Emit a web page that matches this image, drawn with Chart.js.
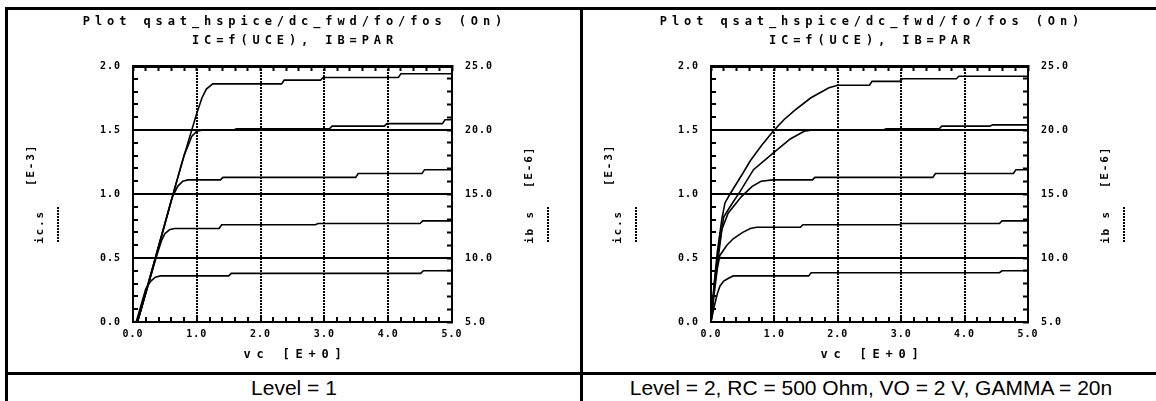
<!DOCTYPE html>
<html>
<head>
<meta charset="utf-8">
<script src="https://cdn.jsdelivr.net/npm/chart.js@4.4.1/dist/chart.umd.min.js"></script>
<style>
  html, body { margin: 0; padding: 0; background: #fff; width: 1156px; height: 401px; overflow: hidden; position: relative; }
  .rule { position: absolute; background: #000; }
  canvas { position: absolute; }
  .caption { position: absolute; top: 376px; height: 24px; line-height: 24px; text-align: center;
             font-family: "Liberation Sans", Arial, sans-serif; font-size: 21px; color: #000; white-space: nowrap; }
</style>
</head>
<body>
<div class="rule" style="left:5px;top:7px;width:1160px;height:3px"></div>
<div class="rule" style="left:5px;top:7px;width:3px;height:400px"></div>
<div class="rule" style="left:580px;top:7px;width:3px;height:400px"></div>
<div class="rule" style="left:5px;top:372px;width:1160px;height:3px"></div>
<canvas id="chartL" width="572" height="362" style="left:8px;top:10px"></canvas>
<canvas id="chartR" width="573" height="362" style="left:583px;top:10px"></canvas>
<div class="caption" id="capL" style="left:8px;width:572px"></div>
<div class="caption" id="capR" style="left:583px;width:576px"></div>

<script>
// axes (tick labels)
const vcTicks = [0, 1, 2, 3, 4, 5];        // VC [E+0]
const icTicks = [0, 0.5, 1.0, 1.5, 2.0];   // IC [E-3]
const ibTicks = [5, 10, 15, 20, 25];       // IB [E-6]

const titleLines = ['Plot qsat_hspice/dc_fwd/fo/fos (On)', 'IC=f(UCE), IB=PAR'];
const xTitle = 'vc [E+0]';
const captionL = 'Level = 1';
const captionR = 'Level = 2, RC = 500 Ohm, VO = 2 V, GAMMA = 20n';

// Level 1 : [vc, ic] per IB step
const l1_ib25 = [[0.07,0],[0.3,0.4],[0.6,0.95],[0.8,1.3],[1.0,1.63],[1.08,1.75],[1.15,1.82],[1.25,1.86],[2.33,1.86],[2.37,1.89],[2.94,1.89],[2.98,1.91],[4.16,1.91],[4.2,1.94],[5.0,1.94]];
const l1_ib20 = [[0.07,0],[0.3,0.41],[0.6,0.95],[0.8,1.3],[0.92,1.45],[1.0,1.49],[1.1,1.5],[1.58,1.5],[1.62,1.51],[3.08,1.51],[3.12,1.53],[3.94,1.53],[3.98,1.55],[4.85,1.55],[4.89,1.58],[5.0,1.58]];
const l1_ib15 = [[0.07,0],[0.35,0.5],[0.62,0.98],[0.7,1.06],[0.78,1.1],[0.86,1.11],[1.37,1.11],[1.41,1.13],[3.49,1.13],[3.53,1.16],[4.53,1.16],[4.57,1.19],[5.0,1.19]];
const l1_ib10 = [[0.07,0],[0.36,0.5],[0.45,0.64],[0.5,0.69],[0.57,0.72],[0.65,0.73],[1.35,0.73],[1.39,0.76],[2.86,0.76],[2.9,0.77],[4.5,0.77],[4.54,0.79],[5.0,0.79]];
const l1_ib5  = [[0.05,0],[0.2,0.26],[0.28,0.32],[0.35,0.35],[0.43,0.36],[1.5,0.36],[1.54,0.38],[4.51,0.38],[4.55,0.4],[5.0,0.4]];

// Level 2
const l2_ib25 = [[0,0],[0.05,0.3],[0.1,0.55],[0.17,0.8],[0.22,0.93],[0.3,1.0],[0.4,1.08],[0.5,1.16],[0.62,1.26],[0.8,1.38],[0.98,1.49],[1.15,1.58],[1.31,1.65],[1.57,1.75],[1.86,1.83],[2.0,1.85],[2.5,1.85],[2.54,1.88],[2.98,1.88],[3.02,1.9],[3.87,1.9],[3.91,1.92],[5.0,1.92]];
const l2_ib20 = [[0,0],[0.05,0.28],[0.1,0.5],[0.2,0.82],[0.3,0.9],[0.46,1.02],[0.67,1.19],[0.98,1.32],[1.25,1.43],[1.47,1.49],[1.6,1.5],[2.72,1.5],[2.76,1.51],[3.6,1.51],[3.64,1.53],[4.4,1.53],[4.44,1.54],[5.0,1.54]];
const l2_ib15 = [[0,0],[0.05,0.25],[0.1,0.45],[0.17,0.72],[0.27,0.85],[0.48,0.98],[0.65,1.06],[0.79,1.1],[0.97,1.11],[1.6,1.11],[1.64,1.13],[3.5,1.13],[3.54,1.16],[4.77,1.16],[4.81,1.19],[5.0,1.19]];
const l2_ib10 = [[0,0],[0.05,0.22],[0.1,0.42],[0.14,0.52],[0.25,0.6],[0.35,0.65],[0.5,0.7],[0.62,0.73],[0.72,0.74],[1.41,0.74],[1.45,0.76],[2.97,0.76],[3.01,0.77],[4.55,0.77],[4.59,0.79],[5.0,0.79]];
const l2_ib5  = [[0,0],[0.05,0.12],[0.1,0.22],[0.14,0.28],[0.2,0.32],[0.27,0.34],[0.35,0.36],[1.54,0.36],[1.58,0.385],[4.55,0.385],[4.59,0.4],[5.0,0.4]];

document.getElementById('capL').textContent = captionL;
document.getElementById('capR').textContent = captionR;

const MONO = '"DejaVu Sans Mono", monospace';
const tickFont = { family: MONO, size: 10, weight: 'bold' };
const clear = 'rgba(0,0,0,0)';

function isStep(v, step) {
    const r = v / step;
    return Math.abs(r - Math.round(r)) < 1e-6;
}
function first(a) { return a[0]; }
function last(a) { return a[a.length - 1]; }

// major grid only between the frame edges
function majorColor(ticks, step) {
    return c => {
        const v = c.tick.value;
        return isStep(v, step) && v > first(ticks) + 1e-6 && v < last(ticks) - 1e-6 ? '#000' : clear;
    };
}

function vText(ctx, str, x, y) {
    ctx.save();
    ctx.translate(x, y);
    ctx.rotate(-Math.PI / 2);
    ctx.fillText(str, 0, 0);
    ctx.restore();
}

// titles, axis names and the little legend strokes
const labelsPlugin = {
    id: 'plotLabels',
    beforeDraw(chart) {
        chart.ctx.letterSpacing = '1px';
    },
    afterDraw(chart) {
        const { ctx, chartArea: a } = chart;
        const cx = (a.left + a.right) / 2;
        ctx.save();
        ctx.fillStyle = '#000';
        ctx.textAlign = 'center';
        ctx.textBaseline = 'middle';

        ctx.font = 'bold 12px ' + MONO;
        ctx.letterSpacing = '4.9px';
        ctx.fillText(titleLines[0], cx + 2.5, 12);
        ctx.fillText(titleLines[1], cx + 2.5, 31);
        ctx.letterSpacing = '5.8px';
        ctx.fillText(xTitle, cx + 3, a.bottom + 33);

        ctx.font = 'bold 11px ' + MONO;
        ctx.letterSpacing = '1.8px';
        vText(ctx, '[E-3]', a.left - 102, a.top + 99);
        vText(ctx, 'ic.s', a.left - 93, a.top + 161);
        vText(ctx, '[E-6]', a.right + 77, a.top + 101);
        vText(ctx, 'ib s', a.right + 78, a.top + 161);

        ctx.strokeStyle = '#000';
        ctx.lineWidth = 2;
        ctx.setLineDash([2, 1]);
        ctx.beginPath();
        ctx.moveTo(a.left - 75, a.top + 141);
        ctx.lineTo(a.left - 75, a.top + 176);
        ctx.moveTo(a.right + 96, a.top + 141);
        ctx.lineTo(a.right + 96, a.top + 176);
        ctx.stroke();
        ctx.restore();
        ctx.letterSpacing = '0px';
    }
};

function makeChart(id, curves, leftW, rightW) {
    const ctx = document.getElementById(id).getContext('2d');
    const frame = { display: true, color: '#000', width: 2 };
    const minor = { tickLength: -5, tickWidth: 2, tickColor: '#000' };
    return new Chart(ctx, {
        type: 'line',
        data: {
            datasets: curves.map(c => ({
                data: c.map(p => ({ x: p[0], y: p[1] })),
                borderColor: '#000',
                borderWidth: 1.6,
                pointRadius: 0,
                tension: 0,
                fill: false
            }))
        },
        options: {
            responsive: false,
            animation: false,
            events: [],
            layout: { padding: { top: 56, left: 0, right: 0, bottom: 0 } },
            plugins: {
                legend: { display: false },
                tooltip: { enabled: false },
                title: { display: false }
            },
            scales: {
                x: {
                    type: 'linear',
                    position: 'bottom',
                    min: first(vcTicks), max: last(vcTicks),
                    ticks: {
                        stepSize: 0.2, autoSkip: false, maxRotation: 0, padding: 11,
                        color: '#000', font: tickFont,
                        callback: v => isStep(v, 1) ? v.toFixed(1) : ''
                    },
                    grid: { color: majorColor(vcTicks, 1), lineWidth: 2, ...minor },
                    border: { ...frame, dash: [2, 1] },
                    afterFit: s => { s.height = 50; }
                },
                x2: {
                    type: 'linear',
                    position: 'top',
                    min: first(vcTicks), max: last(vcTicks),
                    ticks: { stepSize: 0.2, display: false },
                    grid: { drawOnChartArea: false, ...minor },
                    border: { ...frame, width: 3 },
                    afterFit: s => { s.height = 0; }
                },
                y: {
                    type: 'linear',
                    position: 'left',
                    min: first(icTicks), max: last(icTicks),
                    ticks: {
                        stepSize: 0.1, autoSkip: false, padding: 17,
                        color: '#000', font: tickFont,
                        callback: v => isStep(v, 0.5) ? v.toFixed(1) : ''
                    },
                    grid: { color: majorColor(icTicks, 0.5), lineWidth: 2, ...minor },
                    border: frame,
                    afterFit: s => { s.width = leftW; }
                },
                y2: {
                    type: 'linear',
                    position: 'right',
                    min: first(ibTicks), max: last(ibTicks),
                    ticks: {
                        stepSize: 1, autoSkip: false, padding: 18,
                        color: '#000', font: tickFont,
                        callback: v => isStep(v, 5) ? v.toFixed(1) : ''
                    },
                    grid: { drawOnChartArea: false, ...minor },
                    border: frame,
                    afterFit: s => { s.width = rightW; }
                }
            }
        },
        plugins: [labelsPlugin]
    });
}

makeChart('chartL', [l1_ib25, l1_ib20, l1_ib15, l1_ib10, l1_ib5], 125, 128);
makeChart('chartR', [l2_ib25, l2_ib20, l2_ib15, l2_ib10, l2_ib5], 128, 128);
</script>
</body>
</html>
